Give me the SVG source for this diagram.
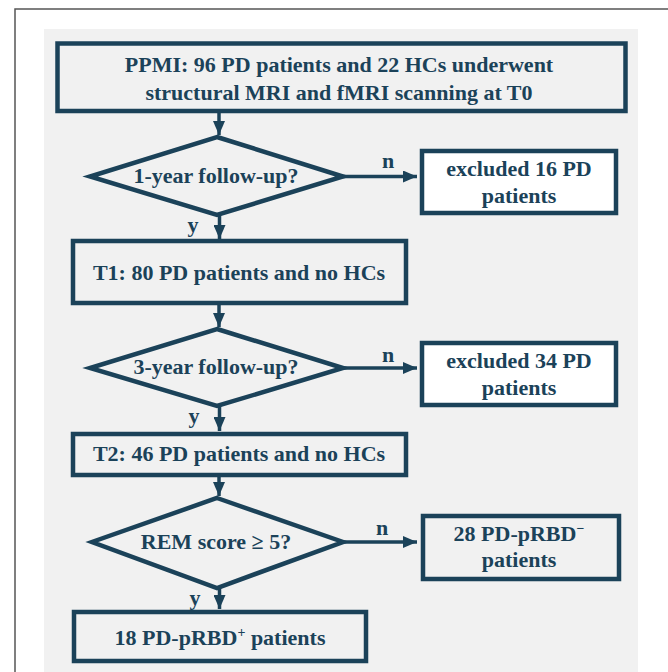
<svg xmlns="http://www.w3.org/2000/svg" width="668" height="672" viewBox="0 0 668 672">
<defs>
<style>
.bx{stroke:#1b4259;stroke-width:4.5;fill:#f1f1f1}
.wh{fill:#ffffff}
.dm{stroke:#1b4259;stroke-width:4.5;fill:#f1f1f1;stroke-linejoin:miter}
.cn{stroke:#1b4259;stroke-width:3.5;fill:none}
.t{font-family:"Liberation Serif","Times New Roman",serif;font-weight:bold;font-size:22px;fill:#1b4259;text-anchor:middle}
.lb{font-family:"Liberation Serif","Times New Roman",serif;font-weight:bold;font-size:22px;fill:#1b4259;text-anchor:middle}
</style>
<marker id="ah" viewBox="0 0 14 12" refX="14" refY="6" markerWidth="14" markerHeight="12" orient="auto" markerUnits="userSpaceOnUse">
<path d="M0,0 L14,6 L0,12 z" fill="#1b4259"/>
</marker>
</defs>
<rect x="0" y="0" width="668" height="672" fill="#ffffff"/>
<path d="M15,672 L15,9 L668,9" fill="none" stroke="#555555" stroke-width="1.5"/>
<rect x="44" y="29" width="594" height="643" fill="#f1f1f1"/>

<g id="connectors">
<line class="cn" x1="219" y1="111" x2="219" y2="135" marker-end="url(#ah)"/>
<line class="cn" x1="343" y1="176.5" x2="417" y2="176.5" marker-end="url(#ah)"/>
<line class="cn" x1="219.5" y1="215" x2="219.5" y2="239" marker-end="url(#ah)"/>
<line class="cn" x1="219" y1="305" x2="219" y2="327" marker-end="url(#ah)"/>
<line class="cn" x1="343" y1="368" x2="417" y2="368" marker-end="url(#ah)"/>
<line class="cn" x1="219.5" y1="406" x2="219.5" y2="431" marker-end="url(#ah)"/>
<line class="cn" x1="219" y1="476" x2="219" y2="496" marker-end="url(#ah)"/>
<line class="cn" x1="343" y1="542" x2="417" y2="542" marker-end="url(#ah)"/>
<line class="cn" x1="219.5" y1="588" x2="219.5" y2="609" marker-end="url(#ah)"/>
<text class="lb" x="388" y="168">n</text>
<text class="lb" x="193" y="232">y</text>
<text class="lb" x="388" y="362">n</text>
<text class="lb" x="194" y="423">y</text>
<text class="lb" x="382" y="535">n</text>
<text class="lb" x="195" y="605">y</text>
</g>

<g id="n_ppmi">
<rect class="bx" x="57.5" y="43.5" width="568" height="67.5"/>
<text class="t" x="339" y="72">PPMI: 96 PD patients and 22 HCs underwent</text>
<text class="t" x="339" y="100">structural MRI and fMRI scanning at T0</text>
</g>

<g id="d_1year">
<polygon class="dm" points="217,137 343,176.5 217,215 90,176.5"/>
<text class="t" x="216" y="183">1-year follow-up?</text>
</g>

<g id="n_excl16">
<rect class="bx wh" x="422" y="151" width="194" height="62"/>
<text class="t" x="519" y="176">excluded 16 PD</text>
<text class="t" x="519" y="203">patients</text>
</g>

<g id="n_t1">
<rect class="bx" x="73" y="241" width="333" height="62"/>
<text class="t" x="239" y="280">T1: 80 PD patients and no HCs</text>
</g>

<g id="d_3year">
<polygon class="dm" points="217,329 343,368 217,406 90,368"/>
<text class="t" x="216" y="374">3-year follow-up?</text>
</g>

<g id="n_excl34">
<rect class="bx wh" x="422" y="343" width="194" height="62"/>
<text class="t" x="519" y="368">excluded 34 PD</text>
<text class="t" x="519" y="395">patients</text>
</g>

<g id="n_t2">
<rect class="bx" x="73" y="434" width="333" height="41"/>
<text class="t" x="239" y="461">T2: 46 PD patients and no HCs</text>
</g>

<g id="d_rem">
<polygon class="dm" points="217,498 343,542 217,588 92,542"/>
<text class="t" x="216" y="549">REM score ≥ 5?</text>
</g>

<g id="n_neg">
<rect class="bx" x="423" y="516" width="196" height="63"/>
<text class="t" x="519" y="541">28 PD-pRBD<tspan font-size="14" dy="-8">−</tspan></text>
<text class="t" x="519" y="567">patients</text>
</g>

<g id="n_pos">
<rect class="bx" x="74" y="612" width="292" height="49"/>
<text class="t" x="220" y="645">18 PD-pRBD<tspan font-size="14" dy="-8">+</tspan><tspan dy="8"> patients</tspan></text>
</g>
</svg>
